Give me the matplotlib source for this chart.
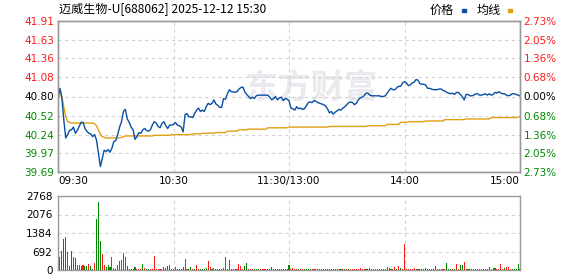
import numpy as np
import matplotlib
matplotlib.use('Agg')
import matplotlib.pyplot as plt
from matplotlib.patches import Rectangle

plt.rcParams['font.family'] = ['Noto Sans CJK SC', 'DejaVu Sans']

title = '迈威生物-U[688062] 2025-12-12 15:30'
pre_close = 40.80
price_ticks = [39.69, 39.97, 40.24, 40.52, 40.80, 41.08, 41.36, 41.63, 41.91]
pct_labels = ['2.73%', '2.05%', '1.36%', '0.68%', '0.00%', '0.68%', '1.36%', '2.05%', '2.73%']
vol_ticks = [0, 692, 1384, 2076, 2768]
time_pos = [0, 60, 120, 180, 240]
time_labels = ['09:30', '10:30', '11:30/13:00', '14:00', '15:00']

# minute prices 09:30 .. 11:30, 13:01 .. 15:00
price = [
    40.75, 40.92, 40.78, 40.46, 40.19, 40.24, 40.30, 40.31, 40.35, 40.26,
    40.30, 40.36, 40.42, 40.42, 40.33, 40.29, 40.26, 40.25, 40.21, 40.24,
    40.16, 39.97, 39.77, 39.89, 40.01, 39.99, 40.02, 39.98, 40.04, 40.14,
    40.15, 40.24, 40.35, 40.43, 40.58, 40.61, 40.47, 40.42, 40.35, 40.31,
    40.17, 40.21, 40.27, 40.26, 40.31, 40.33, 40.30, 40.29, 40.31, 40.38,
    40.43, 40.41, 40.36, 40.34, 40.40, 40.43, 40.37, 40.33, 40.38, 40.38,
    40.39, 40.42, 40.38, 40.37, 40.35, 40.28, 40.53, 40.55, 40.50, 40.50,
    40.49, 40.55, 40.60, 40.63, 40.58, 40.60, 40.58, 40.65, 40.70, 40.68,
    40.70, 40.75, 40.69, 40.67, 40.64, 40.64, 40.77, 40.76, 40.84, 40.90,
    40.87, 40.87, 40.86, 40.87, 40.91, 40.93, 40.94, 40.87, 40.83, 40.80,
    40.77, 40.79, 40.77, 40.81, 40.82, 40.82, 40.82, 40.82, 40.82, 40.82,
    40.79, 40.75, 40.77, 40.80, 40.75, 40.78, 40.79, 40.74, 40.77, 40.76,
    40.74, 40.63, 40.62, 40.60, 40.65, 40.62, 40.63, 40.61, 40.62, 40.66,
    40.71, 40.72, 40.71, 40.74, 40.73, 40.71, 40.70, 40.69, 40.68, 40.66,
    40.62, 40.56, 40.58, 40.54, 40.57, 40.59, 40.61, 40.60, 40.63, 40.65,
    40.68, 40.71, 40.72, 40.71, 40.68, 40.70, 40.75, 40.78, 40.79, 40.81,
    40.85, 40.85, 40.82, 40.81, 40.81, 40.81, 40.81, 40.81, 40.80, 40.80,
    40.81, 40.85, 40.89, 40.92, 40.90, 40.90, 40.93, 40.95, 40.95, 41.00,
    41.02, 41.00, 40.96, 40.97, 41.00, 41.01, 41.05, 41.04, 40.99, 40.98,
    40.98, 40.97, 40.92, 40.92, 40.91, 40.90, 40.90, 40.90, 40.91, 40.91,
    40.89, 40.88, 40.86, 40.85, 40.84, 40.85, 40.83, 40.86, 40.86, 40.83,
    40.80, 40.75, 40.83, 40.83, 40.81, 40.81, 40.82, 40.84, 40.84, 40.82,
    40.82, 40.83, 40.84, 40.82, 40.84, 40.82, 40.83, 40.86, 40.85, 40.87,
    40.85, 40.84, 40.84, 40.82, 40.81, 40.82, 40.84, 40.84, 40.83, 40.82,
    40.81,
]

avg_price = [
    40.90, 40.90, 40.80, 40.65, 40.50, 40.43, 40.42, 40.41, 40.41, 40.41,
    40.41, 40.41, 40.41, 40.41, 40.41, 40.41, 40.41, 40.41, 40.41, 40.40,
    40.37, 40.31, 40.25, 40.21, 40.20, 40.19, 40.19, 40.19, 40.19, 40.19,
    40.19, 40.19, 40.19, 40.20, 40.21, 40.22, 40.22, 40.22, 40.22, 40.22,
    40.22, 40.22, 40.22, 40.22, 40.22, 40.22, 40.22, 40.22, 40.22, 40.22,
    40.23, 40.23, 40.23, 40.23, 40.23, 40.23, 40.23, 40.23, 40.23, 40.24,
    40.24, 40.24, 40.24, 40.24, 40.24, 40.24, 40.24, 40.24, 40.24, 40.24,
    40.25, 40.25, 40.25, 40.25, 40.25, 40.26, 40.26, 40.26, 40.26, 40.26,
    40.26, 40.26, 40.27, 40.27, 40.27, 40.27, 40.27, 40.27, 40.29, 40.29,
    40.29, 40.29, 40.29, 40.29, 40.31, 40.31, 40.31, 40.31, 40.31, 40.32,
    40.32, 40.32, 40.32, 40.32, 40.32, 40.32, 40.32, 40.32, 40.32, 40.34,
    40.34, 40.34, 40.34, 40.34, 40.34, 40.34, 40.34, 40.34, 40.34, 40.34,
    40.35, 40.35, 40.35, 40.35, 40.35, 40.35, 40.35, 40.35, 40.35, 40.35,
    40.35, 40.35, 40.35, 40.35, 40.35, 40.35, 40.35, 40.35, 40.35, 40.35,
    40.35, 40.36, 40.36, 40.36, 40.36, 40.36, 40.36, 40.36, 40.36, 40.36,
    40.36, 40.36, 40.36, 40.36, 40.36, 40.36, 40.36, 40.36, 40.36, 40.36,
    40.36, 40.37, 40.37, 40.37, 40.37, 40.37, 40.37, 40.37, 40.37, 40.37,
    40.37, 40.39, 40.39, 40.39, 40.39, 40.39, 40.39, 40.39, 40.42, 40.42,
    40.42, 40.42, 40.43, 40.43, 40.43, 40.43, 40.43, 40.43, 40.43, 40.43,
    40.43, 40.44, 40.44, 40.44, 40.44, 40.44, 40.44, 40.44, 40.44, 40.44,
    40.44, 40.46, 40.46, 40.46, 40.46, 40.46, 40.46, 40.46, 40.46, 40.46,
    40.46, 40.46, 40.47, 40.47, 40.47, 40.47, 40.47, 40.47, 40.47, 40.47,
    40.47, 40.47, 40.47, 40.47, 40.47, 40.49, 40.49, 40.49, 40.49, 40.49,
    40.49, 40.49, 40.49, 40.49, 40.49, 40.49, 40.49, 40.49, 40.49, 40.50,
    40.50,
]

volume = [
    0, 500, 710, 1160, 1235, 673, 150, 710, 486, 449,
    187, 187, 162, 187, 150, 150, 224, 150, 37, 262,
    1908, 2544, 1085, 599, 187, 125, 187, 112, 486, 75,
    50, 187, 337, 374, 636, 486, 150, 50, 50, 50,
    112, 50, 50, 50, 224, 87, 50, 50, 50, 50,
    524, 50, 50, 50, 50, 125, 87, 137, 187, 50,
    50, 112, 50, 50, 50, 112, 412, 50, 50, 112,
    50, 50, 187, 50, 50, 50, 50, 87, 349, 112,
    50, 75, 50, 50, 50, 50, 87, 486, 50, 374,
    50, 50, 50, 50, 224, 137, 50, 150, 262, 50,
    50, 50, 50, 50, 50, 50, 50, 50, 50, 50,
    50, 112, 50, 50, 50, 50, 50, 50, 50, 50,
    187, 40, 75, 40, 40, 40, 40, 40, 40, 40,
    40, 40, 40, 40, 40, 40, 40, 40, 40, 40,
    40, 40, 40, 40, 40, 40, 40, 40, 40, 40,
    40, 40, 40, 40, 40, 40, 40, 75, 40, 40,
    40, 40, 75, 40, 40, 40, 40, 40, 40, 40,
    40, 112, 75, 40, 40, 112, 40, 150, 75, 40,
    973, 40, 40, 40, 40, 75, 40, 40, 40, 40,
    40, 75, 40, 40, 40, 40, 150, 40, 40, 40,
    40, 40, 262, 40, 40, 40, 40, 224, 40, 175,
    187, 300, 40, 40, 40, 40, 40, 40, 40, 40,
    40, 40, 40, 40, 112, 40, 75, 75, 40, 40,
    224, 40, 75, 112, 112, 40, 40, 40, 40, 224,
    40,
]

# r = up minute, g = down minute
vol_dir = (
    'rrgggrrgrg' 'rrrrggrggr' 'gggrrgggrr' 'grrrrrgggg' 'grrrgrggrr'
    'rrrrgrggrr' 'rrggggrrgg' 'rgrrggggrr' 'grggggrrrr' 'gggrrrrggr'
    'rrgggrrrrg' 'rggggggggg' 'grrrrgrrgg' 'ggrrrrrgrg' 'ggggggggrg'
    'rgrrrrrrrr' 'grgrrrrrrr' 'rrrgrrgrgr' 'rrrrrrrggg' 'rggrgggrrr'
    'rrgggrgrrg' 'grrggggrrr' 'rrrrgrrgrr' 'rrgrrrgggg' 'g'
)

RED = '#ff1a1a'
GREEN = '#008a00'
GRID = '#d2d2d2'
SPINE = '#9a9a9a'
TICKFONT = 'DejaVu Sans'

x = np.arange(len(price))

fig = plt.figure(figsize=(5.78, 2.76), dpi=100)
ax = fig.add_axes([58 / 578, 1 - 172 / 276, 462 / 578, 151 / 276])
axv = fig.add_axes([58 / 578, 1 - 270 / 276, 462 / 578, 74 / 276])

# watermark
ax.text(0.548, 0.55, '东方财富', transform=ax.transAxes, ha='center', va='center',
        fontsize=24, fontweight='bold', color='#e9e9ee', zorder=0)

ax.plot(x, avg_price, color='#e0a012', lw=1.0, zorder=3)
ax.plot(x, price, color='#0a4fa3', lw=1.0, zorder=4)

ax.set_xlim(0, 240)
ax.set_ylim(price_ticks[0], price_ticks[-1])
ax.set_yticks(price_ticks)
ax.set_yticklabels([f'{v:.2f}' for v in price_ticks])
for lab, v in zip(ax.get_yticklabels(), price_ticks):
    lab.set_color(RED if v > pre_close else ('black' if v == pre_close else GREEN))
    lab.set_family(TICKFONT)

ax.set_xticks(time_pos)
ax.set_xticklabels(time_labels)
xl = ax.get_xticklabels()
for lab in xl:
    lab.set_family(TICKFONT)
xl[0].set_ha('left')
xl[-1].set_ha('right')

ax.tick_params(axis='both', length=0, labelsize=7.5)
ax.tick_params(axis='y', pad=2.5)
ax.tick_params(axis='x', pad=3)

ax2 = ax.twinx()
ax2.set_ylim(ax.get_ylim())
ax2.set_yticks(price_ticks)
ax2.set_yticklabels(pct_labels)
for lab, v in zip(ax2.get_yticklabels(), price_ticks):
    lab.set_color(RED if v > pre_close else ('black' if v == pre_close else GREEN))
    lab.set_family(TICKFONT)
ax2.tick_params(axis='y', length=0, labelsize=7.5, pad=2.5)

for a in (ax, ax2, axv):
    for s in a.spines.values():
        s.set_color(SPINE)
        s.set_linewidth(1.0)

ax.grid(True, color=GRID, linestyle=(0, (3, 3)), linewidth=0.8)
ax.set_axisbelow(True)

# volume
bar_colors = [RED if d == 'r' else GREEN for d in vol_dir]
axv.bar(x, volume, width=0.55, color=bar_colors, linewidth=0, antialiased=False, zorder=3)
axv.set_xlim(0, 240)
axv.set_ylim(vol_ticks[0], vol_ticks[-1])
axv.set_yticks(vol_ticks)
axv.set_yticklabels([str(v) for v in vol_ticks])
for lab in axv.get_yticklabels():
    lab.set_family(TICKFONT)
axv.set_xticks(time_pos)
axv.tick_params(axis='x', length=0, labelbottom=False)
axv.tick_params(axis='y', length=0, labelsize=7.5, pad=4)
axv.grid(True, color=GRID, linestyle=(0, (3, 3)), linewidth=0.8)
axv.set_axisbelow(True)

# header
fig.text(59 / 578, 1 - 10 / 276, title, ha='left', va='center', fontsize=8.7)
fig.text(430 / 578, 1 - 10 / 276, '价格', ha='left', va='center', fontsize=8.7)
fig.text(477 / 578, 1 - 10 / 276, '均线', ha='left', va='center', fontsize=8.7)
fig.patches.append(Rectangle((462 / 578, 1 - 12 / 276), 4 / 578, 3 / 276,
                             transform=fig.transFigure, color='#0a4fa3', figure=fig))
fig.patches.append(Rectangle((508 / 578, 1 - 12 / 276), 4 / 578, 3 / 276,
                             transform=fig.transFigure, color='#e0a012', figure=fig))

fig.savefig('out.png', dpi=100)
